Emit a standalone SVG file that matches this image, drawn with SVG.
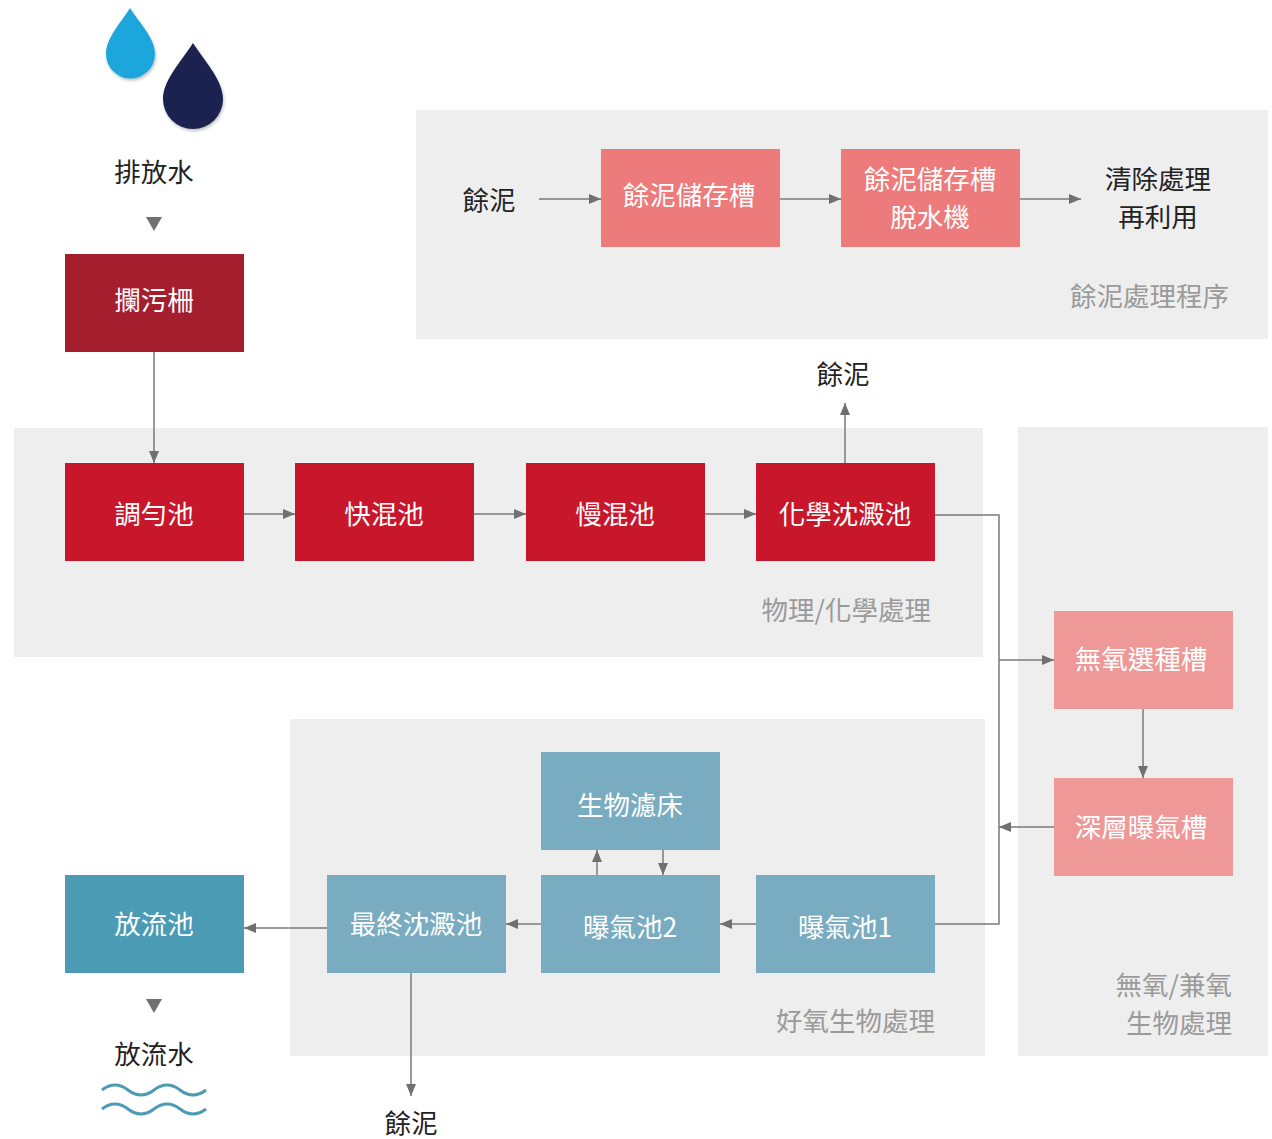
<svg xmlns="http://www.w3.org/2000/svg" width="1272" height="1139" viewBox="0 0 1272 1139">
<defs>
<style>
.panel{fill:#eeeeee}
.t{font-family:"Noto Sans CJK TC","Noto Sans CJK SC",sans-serif;font-size:26.5px;text-anchor:middle}
.w{fill:#ffffff}
.k{fill:#222222}
.g{fill:#9a9a9a;text-anchor:end}
.c{fill:none;stroke:#7a7a7a;stroke-width:1.5}
.dark{fill:#a51e2e}
.red{fill:#c8162b}
.salmon{fill:#ee7b7b}
.pink{fill:#ee9898}
.steel{fill:#79acc1}
.teal{fill:#4a9bb3}
</style>
<marker id="ah" viewBox="0 0 12 10" refX="12" refY="5" markerWidth="12" markerHeight="10" markerUnits="userSpaceOnUse" orient="auto">
<path d="M0,0 L12,5 L0,10 Z" fill="#707070"/>
</marker>
<filter id="sh" x="-30%" y="-30%" width="160%" height="160%">
<feDropShadow dx="1" dy="2" stdDeviation="1.5" flood-color="#000" flood-opacity="0.25"/>
</filter>
</defs>

<g id="panels">
<rect class="panel" x="416" y="110" width="852" height="229"/>
<rect class="panel" x="14" y="428" width="969" height="229"/>
<rect class="panel" x="290" y="719" width="695" height="337"/>
<rect class="panel" x="1018" y="427" width="250" height="629"/>
<text class="t g" x="1229" y="306">餘泥處理程序</text>
<text class="t g" x="931" y="620">物理/化學處理</text>
<text class="t g" x="935" y="1031">好氧生物處理</text>
<text class="t g" x="1232" y="995">無氧/兼氧</text>
<text class="t g" x="1232" y="1033">生物處理</text>
</g>

<g id="drops">
<path d="M130,8 C120,24 106,38 106,54 A24.5,24.5 0 0 0 155,54 C155,38 140,24 130,8 Z" fill="#1aa6dc" filter="url(#sh)"/>
<path d="M193,43 C181,62 163,80 163,99 A30,30 0 0 0 223,99 C223,80 205,62 193,43 Z" fill="#1a2150" filter="url(#sh)"/>
</g>

<g id="source">
<text class="t k" x="154" y="182">排放水</text>
<path d="M146,217 L162,217 L154,231 Z" fill="#707070"/>
</g>

<g id="n-screen"><rect class="dark" x="65" y="254" width="179" height="98"/><text class="t w" x="154" y="310">攔污柵</text></g>
<g id="n-equal"><rect class="red" x="65" y="463" width="179" height="98"/><text class="t w" x="154" y="524">調勻池</text></g>
<g id="n-rapid"><rect class="red" x="295" y="463" width="179" height="98"/><text class="t w" x="384" y="524">快混池</text></g>
<g id="n-slow"><rect class="red" x="526" y="463" width="179" height="98"/><text class="t w" x="615" y="524">慢混池</text></g>
<g id="n-chem"><rect class="red" x="756" y="463" width="179" height="98"/><text class="t w" x="845" y="524">化學沈澱池</text></g>

<g id="n-sludge-in"><text class="t k" x="489" y="210">餘泥</text></g>
<g id="n-store"><rect class="salmon" x="601" y="149" width="179" height="98"/><text class="t w" x="689" y="205">餘泥儲存槽</text></g>
<g id="n-dewater"><rect class="salmon" x="841" y="149" width="179" height="98"/><text class="t w" x="930" y="189">餘泥儲存槽</text><text class="t w" x="930" y="227">脫水機</text></g>
<g id="n-reuse"><text class="t k" x="1158" y="189">清除處理</text><text class="t k" x="1158" y="227">再利用</text></g>

<g id="n-sludge-chem"><text class="t k" x="843" y="384">餘泥</text></g>

<g id="n-anox"><rect class="pink" x="1054" y="611" width="179" height="98"/><text class="t w" x="1141" y="669">無氧選種槽</text></g>
<g id="n-deep"><rect class="pink" x="1054" y="778" width="179" height="98"/><text class="t w" x="1141" y="837">深層曝氣槽</text></g>

<g id="n-biofilter"><rect class="steel" x="541" y="752" width="179" height="98"/><text class="t w" x="630" y="815">生物濾床</text></g>
<g id="n-final"><rect class="steel" x="327" y="875" width="179" height="98"/><text class="t w" x="416" y="934">最終沈澱池</text></g>
<g id="n-aer2"><rect class="steel" x="541" y="875" width="179" height="98"/><text class="t w" x="630" y="937">曝氣池2</text></g>
<g id="n-aer1"><rect class="steel" x="756" y="875" width="179" height="98"/><text class="t w" x="845" y="937">曝氣池1</text></g>
<g id="n-outpool"><rect class="teal" x="65" y="875" width="179" height="98"/><text class="t w" x="154" y="934">放流池</text></g>

<g id="n-outwater">
<path d="M146,999 L162,999 L154,1013 Z" fill="#707070"/>
<text class="t k" x="154" y="1064">放流水</text>
<path d="M102,1090 q13,-10 26,0 t26,0 t26,0 t26,0" fill="none" stroke="#4a9bb3" stroke-width="3"/>
<path d="M102,1109 q13,-10 26,0 t26,0 t26,0 t26,0" fill="none" stroke="#4a9bb3" stroke-width="3"/>
</g>

<g id="n-sludge-final"><text class="t k" x="411" y="1133">餘泥</text></g>

<g id="connectors">
<path class="c" d="M154,352 L154,463" marker-end="url(#ah)"/>
<path class="c" d="M244,514 L295,514" marker-end="url(#ah)"/>
<path class="c" d="M474,514 L526,514" marker-end="url(#ah)"/>
<path class="c" d="M705,514 L756,514" marker-end="url(#ah)"/>
<path class="c" d="M845,463 L845,403" marker-end="url(#ah)"/>
<path class="c" d="M539,199 L601,199" marker-end="url(#ah)"/>
<path class="c" d="M780,199 L841,199" marker-end="url(#ah)"/>
<path class="c" d="M1020,199 L1081,199" marker-end="url(#ah)"/>
<path class="c" d="M935,515 L999,515 L999,924 L935,924"/>
<path class="c" d="M999,660 L1054,660" marker-end="url(#ah)"/>
<path class="c" d="M1054,827 L999,827" marker-end="url(#ah)"/>
<path class="c" d="M1143,709 L1143,778" marker-end="url(#ah)"/>
<path class="c" d="M756,924 L720,924" marker-end="url(#ah)"/>
<path class="c" d="M541,924 L506,924" marker-end="url(#ah)"/>
<path class="c" d="M327,928 L244,928" marker-end="url(#ah)"/>
<path class="c" d="M411,973 L411,1096" marker-end="url(#ah)"/>
<path class="c" d="M597,875 L597,850" marker-end="url(#ah)"/>
<path class="c" d="M663,850 L663,875" marker-end="url(#ah)"/>
</g>
</svg>
